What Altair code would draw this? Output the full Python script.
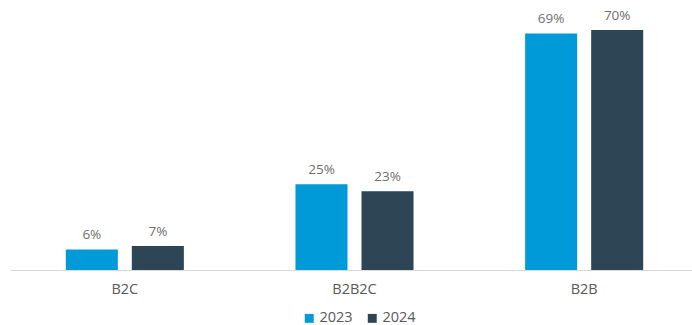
import altair as alt
import pandas as pd

categories = ["B2C", "B2B2C", "B2B"]
years = ["2023", "2024"]
values_2023 = [6, 25, 69]
values_2024 = [7, 23, 70]
labels_2023 = ["6%", "25%", "69%"]
labels_2024 = ["7%", "23%", "70%"]
colors = ["#009AD9", "#2E4555"]

rows = []
for c, v, l in zip(categories, values_2023, labels_2023):
    rows.append({"cat": c, "year": "2023", "value": v, "label": l})
for c, v, l in zip(categories, values_2024, labels_2024):
    rows.append({"cat": c, "year": "2024", "value": v, "label": l})
df = pd.DataFrame(rows)

FONT = "Open Sans"

x = alt.X("cat:N", sort=categories, title=None,
          scale=alt.Scale(paddingInner=0.486, paddingOuter=0.243, range=[0, 689]),
          axis=alt.Axis(labelAngle=0, ticks=False, domainColor="#D9D9D9", domainWidth=1,
                        labelFontSize=14.5, labelColor="#595959", labelFont=FONT,
                        labelPadding=12, grid=False))
xo = alt.XOffset("year:N", sort=years, scale=alt.Scale(paddingInner=0.212, paddingOuter=0))
y = alt.Y("value:Q", scale=alt.Scale(domain=[0, 78.75], nice=False), axis=None)

bars = alt.Chart(df).mark_bar().encode(
    x=x, xOffset=xo, y=y,
    color=alt.Color("year:N", sort=years, scale=alt.Scale(domain=years, range=colors),
                    legend=alt.Legend(title=None, orient="none", legendX=292, legendY=311,
                                      direction="horizontal", symbolType="square",
                                      symbolSize=80, labelFontSize=14.5, labelFont=FONT,
                                      labelColor="#595959", columnPadding=12,
                                      labelOffset=3, symbolStrokeWidth=0)),
)

text = alt.Chart(df).mark_text(baseline="bottom", dy=-7, fontSize=13.5, font=FONT,
                                color="#6E6E6E").encode(
    x=x, xOffset=xo, y=y, text="label:N"
)

chart = (bars + text).properties(
    width=682, height=270,
    autosize=alt.AutoSizeParams(type="none"),
    padding={"left": 10, "top": 0, "right": 0, "bottom": 55},
    background="white",
).configure_view(stroke=None)

chart.save("out.html", embed_options={"renderer": "svg", "actions": False})
